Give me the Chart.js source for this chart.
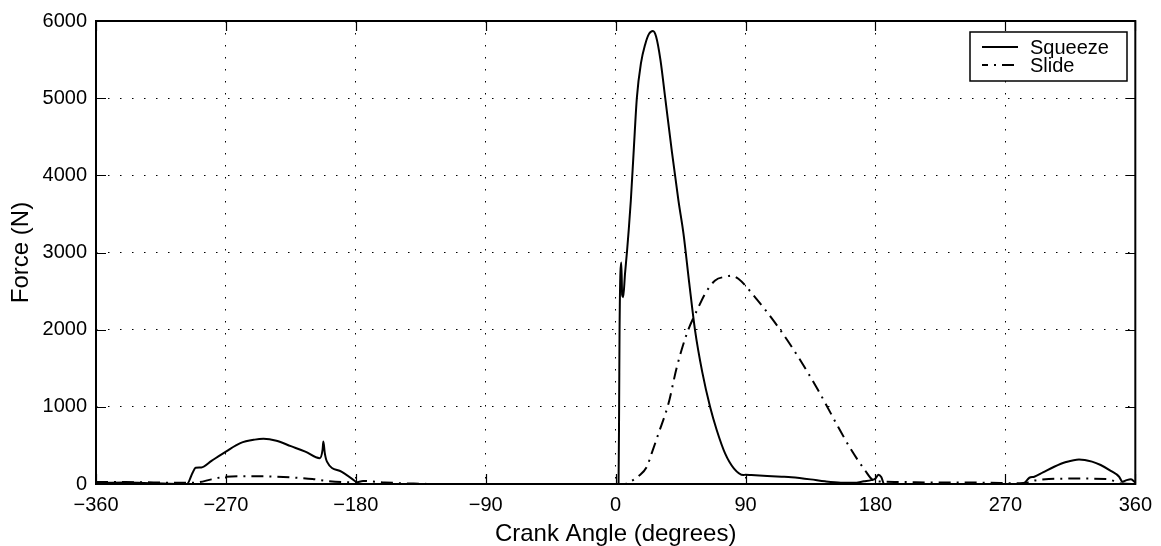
<!DOCTYPE html>
<html>
<head>
<meta charset="utf-8">
<script src="https://cdn.jsdelivr.net/npm/chart.js@4"></script>
<style>
  html, body { margin: 0; padding: 0; background: #fff; }
  #c { display: block; }
</style>
</head>
<body>
<canvas id="c" width="1161" height="546"></canvas>
<script>
// values (crank angle in degrees, force in N)
const squeezeAngle = [-360, -340, -320, -300, -297, -293, -291, -287, -280, -270, -260, -250, -244, -235, -225, -215, -205, -203, -202.5, -201.5, -200, -190, -180, -178,
  0, 2, 2.4, 2.7, 3.9, 4.5, 5.2, 6.5, 7.8, 9, 10.5, 12.6, 14.7, 17.5, 20.5, 23, 25.8, 28, 31, 34.3, 39, 43.5, 47, 51, 55, 60, 65.4, 70, 75.8, 82, 88.5, 90, 94,
  105, 115, 121.8, 135, 145, 156, 165, 172, 177, 180, 182, 184, 186,
  280, 282, 286.6, 290, 296, 303.8, 312, 321, 330, 336, 343, 348.8, 351, 354, 357, 360];
const squeezeForce = [15, 20, 10, 0, 0, 150, 210, 215, 300, 420, 530, 575, 585, 560, 490, 420, 335, 450, 550, 400, 290, 160, 30, 0,
  0, 0, 1000, 2000, 2870, 2450, 2420, 2730, 3000, 3280, 3670, 4350, 5008, 5450, 5700, 5830, 5870, 5800, 5500, 5008, 4300, 3672, 3242, 2600, 1991, 1450, 1000, 700, 397, 200, 116, 120, 116,
  105, 95, 87, 60, 35, 17, 15, 35, 50, 70, 120, 90, 0,
  0, 0, 81, 94, 150, 224, 285, 319, 290, 246, 170, 94, 30, 50, 60, 20];

const slideAngle = [-360, -340, -320, -300, -290, -280, -270, -260, -245, -235, -220, -210, -200, -190, -180, -175, -160, -140, -120,
  0, 6, 10, 15.9, 21.6, 25, 29.7, 36.6, 42.4, 49.3, 57.4, 62, 68.9, 76.9, 80, 85, 96.5, 112.6, 126.5, 140.3, 154.1, 163.3, 172.6, 178.3,
  185, 200, 220, 240, 260, 280, 285, 290, 300, 320, 340, 345, 350, 360];
const slideForce = [25, 25, 20, 15, 20, 60, 95, 100, 100, 95, 80, 65, 40, 25, 20, 40, 20, 5, 0,
  0, 0, 30, 103, 224, 400, 655, 1043, 1517, 1948, 2293, 2466, 2638, 2689, 2700, 2660, 2422, 2034, 1646, 1215, 741, 440, 181, 50,
  30, 25, 20, 20, 15, 10, 20, 45, 65, 70, 65, 40, 5, 0];

const seriesNames = ['Squeeze', 'Slide'];
const xRange = [-360, 360];
const xStep = 90;
const yRange = [0, 6000];
const yStep = 1000;

const FONT = '"Liberation Sans", Arial, Helvetica, sans-serif';
const slideDash = [12, 6, 2, 6];

const toPoints = (xs, ys) => xs.map((v, i) => ({ x: v, y: ys[i] }));

const framePlugin = {
  id: 'frame',
  afterDraw(chart) {
    const { ctx, chartArea: a, scales: { x, y } } = chart;
    ctx.save();
    // inward tick marks, MATLAB style
    ctx.strokeStyle = '#000';
    ctx.lineWidth = 1.2;
    ctx.beginPath();
    x.ticks.forEach(t => {
      const px = Math.round(x.getPixelForValue(t.value)) + 0.5;
      ctx.moveTo(px, a.bottom); ctx.lineTo(px, a.bottom - 10);
      ctx.moveTo(px, a.top); ctx.lineTo(px, a.top + 10);
    });
    y.ticks.forEach(t => {
      const py = Math.round(y.getPixelForValue(t.value)) + 0.5;
      ctx.moveTo(a.left, py); ctx.lineTo(a.left + 10, py);
      ctx.moveTo(a.right, py); ctx.lineTo(a.right - 10, py);
    });
    ctx.stroke();
    // frame
    ctx.lineWidth = 2;
    ctx.strokeRect(a.left, a.top, a.right - a.left, a.bottom - a.top);

    // legend box
    const bx = 970, by = 32, bw = 157, bh = 49;
    ctx.fillStyle = '#fff';
    ctx.fillRect(bx, by, bw, bh);
    ctx.lineWidth = 1.5;
    ctx.strokeRect(bx, by, bw, bh);
    const rows = [by + 15, by + 33];
    ctx.lineWidth = 2;
    ctx.beginPath();
    ctx.setLineDash([]);
    ctx.moveTo(982, rows[0]); ctx.lineTo(1018, rows[0]);
    ctx.stroke();
    ctx.beginPath();
    ctx.setLineDash(slideDash);
    ctx.lineDashOffset = 6;
    ctx.moveTo(982, rows[1]); ctx.lineTo(1018, rows[1]);
    ctx.stroke();
    ctx.setLineDash([]);
    ctx.fillStyle = '#000';
    ctx.font = '20px ' + FONT;
    ctx.textBaseline = 'middle';
    ctx.textAlign = 'left';
    seriesNames.forEach((n, i) => ctx.fillText(n, 1030, rows[i] + 1));
    ctx.restore();
  }
};

const minus = v => String(v).replace('-', '\u2212');

new Chart(document.getElementById('c'), {
  type: 'line',
  data: {
    datasets: [
      {
        label: seriesNames[0],
        data: toPoints(squeezeAngle, squeezeForce),
        borderColor: '#000',
        borderWidth: 2,
        pointRadius: 0,
        cubicInterpolationMode: 'monotone'
      },
      {
        label: seriesNames[1],
        data: toPoints(slideAngle, slideForce),
        borderColor: '#000',
        borderWidth: 2,
        borderDash: slideDash,
        pointRadius: 0,
        cubicInterpolationMode: 'monotone'
      }
    ]
  },
  options: {
    responsive: false,
    animation: false,
    layout: { padding: { left: 0, right: 23, top: 20, bottom: 0 } },
    plugins: {
      legend: { display: false },
      tooltip: { enabled: false }
    },
    scales: {
      x: {
        type: 'linear',
        min: xRange[0],
        max: xRange[1],
        afterFit: s => { s.height = 62; },
        ticks: {
          stepSize: xStep,
          color: '#000',
          padding: 9,
          font: { family: FONT, size: 20 },
          callback: v => minus(v)
        },
        grid: { color: '#000', lineWidth: 1, drawTicks: false },
        border: { display: false, dash: [1.5, 10.5] },
        title: {
          display: true,
          text: 'Crank Angle (degrees)',
          color: '#000',
          font: { family: FONT, size: 24 },
          padding: { top: 0, bottom: -3 }
        }
      },
      y: {
        min: yRange[0],
        max: yRange[1],
        afterFit: s => { s.width = 96; },
        ticks: {
          stepSize: yStep,
          color: '#000',
          padding: 9,
          font: { family: FONT, size: 20 },
          callback: v => String(v)
        },
        grid: { color: '#000', lineWidth: 1, drawTicks: false },
        border: { display: false, dash: [1.5, 10.5] },
        title: {
          display: true,
          text: 'Force (N)',
          color: '#000',
          font: { family: FONT, size: 24 },
          padding: { top: 7, bottom: 0 }
        }
      }
    }
  },
  plugins: [framePlugin]
});
</script>
</body>
</html>
